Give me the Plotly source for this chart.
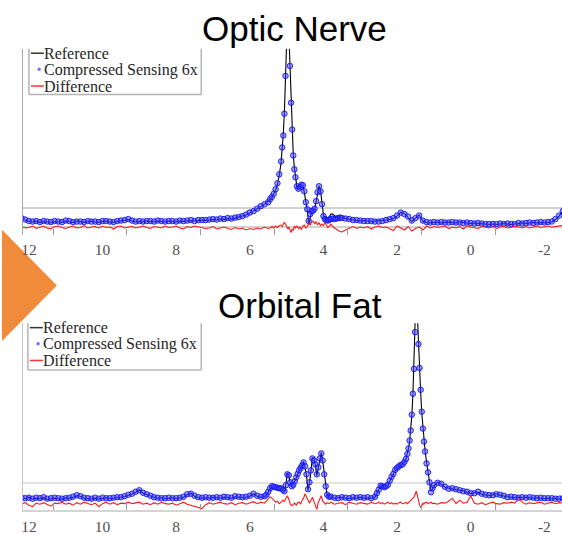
import plotly.graph_objects as go

# ---------------- Optic Nerve (top panel) ----------------
on_ppm = [12.2, 12.1, 12.0, 11.9, 11.8, 11.7, 11.6, 11.5, 11.4, 11.3,
          11.2, 11.1, 11.0, 10.9, 10.8, 10.7, 10.6, 10.5, 10.4, 10.3,
          10.2, 10.1, 10.0, 9.9, 9.8, 9.7, 9.6, 9.5, 9.4, 9.3,
          9.2, 9.1, 9.0, 8.9, 8.8, 8.7, 8.6, 8.5, 8.4, 8.3,
          8.2, 8.1, 8.0, 7.9, 7.8, 7.7, 7.6, 7.5, 7.4, 7.3,
          7.2, 7.1, 7.0, 6.9, 6.8, 6.7, 6.6, 6.5, 6.4, 6.3,
          6.2, 6.1, 6.0, 5.9, 5.8, 5.7, 5.6, 5.5,
          5.45, 5.4, 5.35, 5.3, 5.25, 5.2, 5.15, 5.12, 5.09, 5.06,
          5.03, 5.0, 4.97, 4.94, 4.91, 4.88, 4.85, 4.82, 4.79, 4.76,
          4.72, 4.68, 4.64, 4.6, 4.56, 4.52, 4.48, 4.44, 4.4, 4.36,
          4.32, 4.28, 4.24, 4.2, 4.16, 4.12, 4.08, 4.04, 4.0, 3.96,
          3.92, 3.88, 3.84, 3.8, 3.75, 3.7, 3.65, 3.6, 3.55,
          3.5, 3.4, 3.3, 3.2, 3.1, 3.0, 2.9, 2.8, 2.7, 2.6,
          2.5, 2.4, 2.3, 2.2, 2.1, 2.0, 1.9, 1.8, 1.7, 1.6,
          1.5, 1.4, 1.3, 1.2, 1.1, 1.0, 0.9, 0.8, 0.7, 0.6,
          0.5, 0.4, 0.3, 0.2, 0.1, 0.0, -0.1, -0.2, -0.3, -0.4,
          -0.5, -0.6, -0.7, -0.8, -0.9, -1.0, -1.1, -1.2, -1.3, -1.4,
          -1.5, -1.6, -1.7, -1.8, -1.9, -2.0, -2.1, -2.2, -2.3, -2.4, -2.5]

on_reference = [0.85, 0.7, 0.55, 0.5, 0.6, 0.45, 0.55, 0.5, 0.4, 0.55,
                0.5, 0.45, 0.6, 0.55, 0.45, 0.6, 0.5, 0.45, 0.55, 0.6,
                0.5, 0.45, 0.55, 0.6, 0.5, 0.45, 0.55, 0.6, 0.7, 0.75,
                0.6, 0.5, 0.55, 0.5, 0.6, 0.55, 0.5, 0.6, 0.55, 0.5,
                0.6, 0.55, 0.5, 0.6, 0.55, 0.6, 0.65, 0.6, 0.65, 0.7,
                0.65, 0.7, 0.75, 0.7, 0.8, 0.75, 0.85, 0.8, 0.9, 0.95,
                1.05, 1.2, 1.4, 1.6, 1.8, 2.05, 2.3, 2.55,
                2.75, 3.0, 3.3, 3.7, 4.3, 5.2, 6.5, 7.8, 9.4, 11.6,
                15.0, 19.0, 22.0, 19.5, 16.0, 12.5, 9.0, 7.3, 6.0, 4.9,
                4.0, 3.8, 3.9, 4.3, 4.1, 3.5, 2.6, 1.7, 0.25, 0.9,
                1.6, 1.7, 1.8, 2.5, 3.5, 4.15, 3.7, 2.4, 1.2, 0.75,
                0.7, 0.8, 1.1, 1.3, 1.3, 1.15, 1.0, 0.95, 1.0,
                0.95, 0.85, 0.75, 0.7, 0.65, 0.6, 0.65, 0.6, 0.55, 0.6,
                0.6, 0.65, 0.7, 0.75, 0.85, 1.1, 1.5, 1.35, 1.0, 0.55,
                0.9, 1.2, 0.6, 0.45, 0.4, 0.45, 0.5, 0.4, 0.45, 0.5,
                0.45, 0.4, 0.5, 0.45, 0.4, 0.35, 0.4, 0.35, 0.3, 0.3,
                0.25, 0.3, 0.25, 0.3, 0.35, 0.3, 0.25, 0.3, 0.35, 0.4,
                0.35, 0.4, 0.45, 0.4, 0.45, 0.4, 0.45, 0.5, 0.75, 1.1, 1.6]

on_cs = [0.9, 0.75, 0.6, 0.55, 0.6, 0.5, 0.6, 0.55, 0.5, 0.6,
         0.55, 0.5, 0.65, 0.6, 0.5, 0.55, 0.55, 0.5, 0.6, 0.55,
         0.55, 0.5, 0.6, 0.6, 0.55, 0.5, 0.6, 0.65, 0.7, 0.8,
         0.65, 0.55, 0.6, 0.55, 0.6, 0.6, 0.55, 0.65, 0.6, 0.55,
         0.6, 0.6, 0.55, 0.65, 0.6, 0.65, 0.7, 0.6, 0.7, 0.7,
         0.7, 0.75, 0.8, 0.75, 0.85, 0.8, 0.9, 0.85, 0.95, 1.0,
         1.1, 1.25, 1.45, 1.6, 1.85, 2.1, 2.3, 2.5,
         2.8, 3.05, 3.35, 3.8, 4.4, 5.3, 6.6, 8.0, 9.2, 11.4,
         15.2, 18.8, 21.5, 19.0, 16.2, 12.5, 9.8, 7.2, 5.8, 5.0,
         4.1, 3.85, 4.0, 4.25, 4.2, 3.6, 2.5, 1.8, 0.6, 1.3,
         1.6, 1.65, 1.85, 2.6, 3.5, 4.1, 3.6, 2.3, 1.1, 0.8,
         0.7, 0.65, 0.75, 0.8, 0.85, 0.8, 0.85, 0.9, 0.95,
         0.9, 0.85, 0.8, 0.7, 0.7, 0.65, 0.6, 0.6, 0.6, 0.55,
         0.55, 0.6, 0.7, 0.8, 0.9, 1.15, 1.45, 1.3, 1.05, 0.65,
         0.9, 1.15, 0.65, 0.5, 0.45, 0.5, 0.45, 0.5, 0.45, 0.45,
         0.5, 0.45, 0.45, 0.4, 0.45, 0.4, 0.35, 0.4, 0.35, 0.3,
         0.3, 0.3, 0.3, 0.35, 0.3, 0.35, 0.3, 0.3, 0.4, 0.35,
         0.4, 0.45, 0.4, 0.45, 0.5, 0.45, 0.5, 0.55, 0.8, 1.15, 1.6]

on_difference = [0.05, -0.1, -0.05, 0.1, -0.15, 0.0, 0.1, -0.1, -0.2, 0.05,
                 0.1, -0.05, -0.15, 0.0, 0.1, -0.1, -0.05, 0.15, -0.1, 0.0,
                 0.05, -0.1, 0.1, -0.05, 0.0, -0.2, 0.05, 0.1, -0.1, 0.0,
                 0.05, -0.1, 0.0, 0.1, -0.05, -0.15, 0.05, 0.0, -0.1, 0.1,
                 -0.05, 0.0, 0.1, -0.1, -0.2, 0.05, -0.05, 0.1, 0.0, -0.1,
                 -0.15, -0.1, 0.05, -0.2, -0.1, 0.0, -0.15, -0.25, -0.05, -0.2,
                 -0.1, -0.3, -0.15, -0.25, -0.1, -0.2, 0.0, -0.15,
                 -0.1, 0.05, -0.1, 0.1, -0.05, 0.15, 0.2, 0.05, 0.3, 0.45,
                 0.3, 0.1, -0.2, 0.0, -0.4, -0.55, -0.2, -0.35, 0.1, -0.1,
                 0.1, -0.15, 0.0, -0.25, 0.1, 0.2, -0.1, 0.05, 0.4, 0.2,
                 0.5, 0.6, 0.3, 0.55, 0.2, 0.45, 0.1, 0.3, 0.15, 0.45,
                 0.2, -0.05, 0.1, 0.3, 0.05, -0.1, -0.2, -0.35, -0.45,
                 -0.5, -0.3, -0.1, 0.05, -0.15, 0.0, -0.1, 0.05, -0.2, 0.0,
                 0.1, -0.05, 0.0, -0.2, -0.35, 0.1, -0.1, -0.3, 0.05, -0.4,
                 -0.15, 0.0, -0.3, 0.1, -0.1, 0.05, -0.05, 0.0, 0.1, -0.15,
                 0.0, -0.1, 0.05, -0.2, 0.1, 0.0, -0.1, -0.15, 0.05, 0.0,
                 -0.1, 0.05, -0.15, 0.0, 0.1, -0.1, -0.05, 0.05, 0.0, -0.1,
                 0.05, -0.1, 0.0, 0.1, -0.05, 0.05, 0.1, 0.0, 0.05, 0.1, 0.15]

# ---------------- Orbital Fat (bottom panel) ----------------
of_ppm = [12.2, 12.1, 12.0, 11.9, 11.8, 11.7, 11.6, 11.5, 11.4, 11.3,
          11.2, 11.1, 11.0, 10.9, 10.8, 10.7, 10.6, 10.5, 10.4, 10.3,
          10.2, 10.1, 10.0, 9.9, 9.8, 9.7, 9.6, 9.5, 9.4, 9.3,
          9.2, 9.1, 9.0, 8.9, 8.8, 8.7, 8.6, 8.5, 8.4, 8.3,
          8.2, 8.1, 8.0, 7.9, 7.8, 7.7, 7.6, 7.5, 7.4, 7.3,
          7.2, 7.1, 7.0, 6.9, 6.8, 6.7, 6.6, 6.5, 6.4, 6.3,
          6.2, 6.1, 6.0, 5.9, 5.8, 5.7, 5.6,
          5.55, 5.5, 5.45, 5.4, 5.35, 5.3, 5.25, 5.2, 5.15, 5.1,
          5.06, 5.02, 4.98, 4.94, 4.9, 4.86, 4.82, 4.78, 4.74, 4.7,
          4.66, 4.62, 4.58, 4.54, 4.5, 4.46, 4.42, 4.38, 4.34, 4.3,
          4.26, 4.22, 4.18, 4.14, 4.1, 4.06, 4.02, 3.98, 3.94, 3.9, 3.85,
          3.8, 3.7, 3.6, 3.5, 3.4, 3.3, 3.2, 3.1, 3.0, 2.9, 2.8, 2.7, 2.6,
          2.55, 2.5, 2.45, 2.4, 2.35, 2.3, 2.25, 2.2, 2.15, 2.1,
          2.05, 2.0, 1.95, 1.9, 1.85, 1.8, 1.76, 1.72, 1.69, 1.66,
          1.63, 1.6, 1.57, 1.54, 1.51, 1.48, 1.45, 1.42, 1.39, 1.36,
          1.33, 1.3, 1.27, 1.24, 1.2, 1.16, 1.12, 1.08, 1.04, 1.0,
          0.9, 0.8, 0.7, 0.6, 0.5, 0.4, 0.3, 0.2, 0.1, 0.0,
          -0.1, -0.2, -0.3, -0.4, -0.5, -0.6, -0.7, -0.8, -0.9, -1.0,
          -1.1, -1.2, -1.3, -1.4, -1.5, -1.6, -1.7, -1.8, -1.9, -2.0,
          -2.1, -2.2, -2.3, -2.4, -2.5]

of_reference = [0.5, 0.45, 0.6, 0.4, 0.5, 0.45, 0.55, 0.35, 0.45, 0.5,
                0.45, 0.4, 0.55, 0.5, 0.6, 0.75, 0.7, 0.5, 0.45, 0.4,
                0.5, 0.4, 0.5, 0.55, 0.45, 0.5, 0.55, 0.6, 0.65, 0.8,
                0.9, 1.1, 1.35, 1.0, 0.85, 0.7, 0.6, 0.5, 0.55, 0.45,
                0.5, 0.55, 0.45, 0.5, 0.6, 0.85, 1.0, 0.7, 0.55, 0.5,
                0.55, 0.5, 0.6, 0.55, 0.5, 0.6, 0.55, 0.5, 0.65, 0.6,
                0.55, 0.6, 0.7, 0.95, 0.7, 0.6, 0.65,
                0.8, 1.1, 1.45, 1.7, 1.6, 1.65, 1.5, 1.55, 1.45, 1.3,
                1.1, 1.9, 3.0, 2.75, 2.0, 1.65, 1.9, 2.15, 2.5, 2.9,
                3.25, 3.5, 3.9, 4.2, 3.6, 2.8, 1.25, 2.0, 3.2, 4.6,
                4.4, 3.8, 2.75, 3.5, 4.6, 5.1, 4.25, 3.0, 1.6, 0.8, 0.6,
                0.6, 0.5, 0.55, 0.6, 0.5, 0.45, 0.55, 0.5, 0.6, 0.5, 0.55, 0.5, 0.6,
                0.95, 1.3, 1.7, 1.75, 1.6, 1.65, 1.8, 2.2, 2.6, 2.9,
                3.3, 3.5, 3.75, 3.8, 3.95, 4.1, 4.4, 4.9, 5.5, 6.2,
                7.2, 8.8, 10.9, 13.6, 17.5, 22.0, 19.0, 15.8, 13.5, 11.2,
                9.1, 7.6, 6.3, 5.3, 4.1, 3.0, 2.0, 1.2, 1.4, 1.75,
                2.1, 1.9, 1.6, 1.5, 1.45, 1.35, 1.3, 1.25, 1.1, 0.95,
                1.05, 1.1, 0.9, 0.8, 0.75, 0.85, 0.95, 0.8, 0.7, 0.65,
                0.6, 0.55, 0.6, 0.55, 0.6, 0.55, 0.5, 0.55, 0.5, 0.45,
                0.5, 0.45, 0.5, 0.4, 0.45]

of_cs = [0.55, 0.5, 0.55, 0.45, 0.55, 0.5, 0.6, 0.45, 0.5, 0.55,
         0.5, 0.45, 0.5, 0.55, 0.65, 0.8, 0.7, 0.55, 0.5, 0.45,
         0.55, 0.45, 0.55, 0.5, 0.5, 0.55, 0.6, 0.6, 0.7, 0.85,
         0.95, 1.15, 1.3, 1.05, 0.9, 0.75, 0.6, 0.55, 0.5, 0.5,
         0.55, 0.5, 0.5, 0.55, 0.65, 0.9, 0.95, 0.75, 0.6, 0.55,
         0.6, 0.55, 0.55, 0.6, 0.55, 0.65, 0.6, 0.55, 0.7, 0.65,
         0.6, 0.65, 0.75, 0.95, 0.75, 0.65, 0.7,
         0.85, 1.15, 1.5, 1.7, 1.65, 1.6, 1.55, 1.5, 1.5, 1.35,
         1.2, 1.8, 2.9, 2.8, 2.1, 1.7, 1.85, 2.2, 2.6, 2.95,
         3.3, 3.55, 3.8, 4.1, 3.7, 2.9, 1.4, 2.1, 3.3, 4.5,
         4.3, 3.9, 2.9, 3.6, 4.5, 5.0, 4.3, 2.9, 1.7, 0.85, 0.65,
         0.65, 0.55, 0.5, 0.6, 0.55, 0.5, 0.6, 0.55, 0.6, 0.55, 0.6, 0.5, 0.65,
         1.0, 1.35, 1.75, 1.7, 1.6, 1.7, 1.85, 2.25, 2.65, 2.95,
         3.35, 3.55, 3.7, 3.85, 3.9, 4.15, 4.45, 4.95, 5.5, 6.3,
         7.3, 8.9, 11.0, 13.5, 17.2, 21.5, 19.2, 16.0, 13.6, 11.4,
         9.2, 7.5, 6.2, 5.2, 4.0, 3.1, 2.1, 1.1, 1.5, 1.8,
         2.05, 1.95, 1.65, 1.45, 1.5, 1.4, 1.3, 1.2, 1.15, 1.0,
         1.0, 1.15, 0.95, 0.85, 0.8, 0.8, 0.9, 0.85, 0.75, 0.6,
         0.65, 0.6, 0.55, 0.6, 0.55, 0.6, 0.55, 0.5, 0.55, 0.5,
         0.5, 0.5, 0.45, 0.45, 0.5]

of_difference = [-0.1, 0.05, -0.2, -0.35, 0.0, -0.1, 0.05, -0.15, -0.3, 0.0,
                 -0.05, 0.1, -0.1, 0.0, -0.2, 0.05, -0.1, 0.1, -0.05, -0.15,
                 0.0, -0.35, -0.05, 0.1, -0.1, 0.05, -0.15, 0.0, -0.05, 0.1,
                 -0.05, 0.05, 0.1, -0.1, 0.0, -0.15, 0.05, -0.1, 0.1, -0.05,
                 -0.1, 0.0, -0.2, -0.05, 0.1, -0.1, -0.2, -0.3, -0.4, -0.55,
                 -0.15, 0.05, -0.1, 0.0, 0.1, -0.05, -0.1, 0.05, -0.15, 0.0,
                 0.05, -0.1, 0.0, 0.15, -0.05, 0.1, 0.0,
                 0.2, 0.45, 0.65, 0.5, 0.3, 0.1, 0.2, -0.05, 0.1, 0.3,
                 0.2, 0.5, 0.75, 0.4, -0.1, -0.25, -0.1, 0.0, -0.2, 0.05,
                 0.1, -0.1, 0.3, 0.5, 0.95, 0.6, 0.2, 0.0, 0.3, 0.6,
                 0.2, -0.3, -0.65, 0.1, 0.5, 0.75, 0.2, 0.0, -0.1, 0.05, -0.05,
                 0.1, -0.1, 0.0, 0.05, -0.15, 0.1, 0.0, -0.1, 0.05, 0.0, -0.1, 0.1, -0.05,
                 0.0, 0.1, -0.05, 0.05, -0.1, 0.0, 0.1, -0.05, 0.05, -0.1,
                 0.0, -0.1, 0.05, 0.1, -0.05, 0.0, 0.1, -0.05, 0.05, 0.1,
                 0.2, 0.3, 0.45, 0.6, 0.9, 1.2, 0.8, 0.1, -0.2, -0.4,
                 -0.3, 0.0, -0.1, 0.05, 0.1, -0.05, 0.0, 0.1, -0.05, 0.0,
                 -0.1, 0.05, 0.0, 0.2, 0.5, -0.05, 0.3, 0.0, 0.1, 0.75,
                 0.0, -0.1, 0.05, -0.15, 0.0, 0.1, -0.05, -0.1, 0.05, 0.0,
                 0.1, 0.0, 0.45, 0.1, -0.1, 0.05, -0.05, 0.0, 0.1, -0.1,
                 0.0, 0.1, -0.05, 0.05, 0.0]

for arrs in [(on_ppm, on_reference, on_cs, on_difference),
             (of_ppm, of_reference, of_cs, of_difference)]:
    n = len(arrs[0])
    for a in arrs:
        if len(a) != n:
            raise ValueError("length mismatch %d vs %d" % (len(a), n))

panel_titles = ["Optic Nerve", "Orbital Fat"]
legend_labels = ["Reference", "Compressed Sensing 6x", "Difference"]
tick_vals = [12, 10, 8, 6, 4, 2, 0, -2]
tick_text = ["12", "10", "8", "6", "4", "2", "0", "-2"]
minor_tick_vals = [11.34, 9.34, 7.34, 5.34, 3.34, 1.34, -0.66]

# ---------------- figure ----------------
W, H = 562, 535
def px(x):
    return x / W
def py(y):
    return 1 - y / H

fig = go.Figure()

panels = [
    (on_ppm, on_reference, on_cs, on_difference, "x", "y"),
    (of_ppm, of_reference, of_cs, of_difference, "x2", "y2"),
]
for ppm, ref, cs, diff, xa, ya in panels:
    fig.add_trace(go.Scatter(x=ppm, y=ref, mode="lines", xaxis=xa, yaxis=ya,
                             line=dict(color="black", width=1.1), showlegend=False))
    fig.add_trace(go.Scatter(x=ppm, y=cs, mode="markers", xaxis=xa, yaxis=ya,
                             marker=dict(size=5.5, color="rgba(70,70,255,0.5)",
                                         line=dict(color="rgba(10,10,255,0.85)", width=1)),
                             showlegend=False))
    fig.add_trace(go.Scatter(x=ppm, y=diff, mode="lines", xaxis=xa, yaxis=ya,
                             line=dict(color="#ff1a1a", width=1.1), showlegend=False))

x_left, x_right = 12.162, -2.479
xdom = [px(21), 1.0]
tickfont = dict(family="Liberation Serif, Times New Roman, serif", size=15.5, color="#505050")

common_x = dict(domain=xdom, range=[x_left, x_right], tickmode="array",
                tickvals=tick_vals, ticktext=tick_text, ticks="", showgrid=False,
                zeroline=False, tickfont=tickfont,
                minor=dict(tickmode="array", tickvals=minor_tick_vals, ticks="inside",
                           ticklen=6, tickcolor="#9a9a9a", tickwidth=1, showgrid=False))

fig.update_layout(
    width=W, height=H, autosize=False,
    margin=dict(l=0, r=0, t=0, b=0, pad=0),
    paper_bgcolor="white", plot_bgcolor="rgba(0,0,0,0)",
    showlegend=False,
    xaxis=dict(anchor="y", showline=False, ticklabelstandoff=4, **common_x),
    xaxis2=dict(anchor="y2", showline=True, linecolor="#d4d4d4", linewidth=2,
                ticklabelstandoff=2, **common_x),
    yaxis=dict(domain=[py(236), py(49)], range=[-0.77, 17.93], anchor="x",
               showticklabels=False, ticks="", tickmode="array", tickvals=[0.0, 1.93],
               showgrid=True, gridcolor="#d2d2d2", gridwidth=1.6, zeroline=False,
               showline=True, linecolor="#a8a8a8", linewidth=1),
    yaxis2=dict(domain=[py(512.7), py(325)], range=[-0.67, 18.1], anchor="x2",
                showticklabels=False, ticks="", tickmode="array", tickvals=[2.03],
                showgrid=True, gridcolor="#e2e2e2", gridwidth=1.5, zeroline=False,
                showline=True, linecolor="#c4c4c4", linewidth=1),
)

shapes = []
# orange arrow triangle at left edge
shapes.append(dict(type="path", xref="paper", yref="paper", layer="below",
                   path="M %f,%f L %f,%f L %f,%f Z" % (px(0), py(231), px(55), py(287), px(0), py(343)),
                   fillcolor="#F08B3B", line=dict(width=0)))

annotations = []
# panel titles
title_pos = [(293.5, 29), (299, 307)]
for t, (cx, cy) in zip(panel_titles, title_pos):
    annotations.append(dict(text=t, x=px(cx), y=py(cy), xref="paper", yref="paper",
                            xanchor="center", yanchor="middle", showarrow=False,
                            font=dict(family="Liberation Sans, Arial, sans-serif", size=35, color="black")))

# legends (frame top edge hidden by the axes top, as in the original)
legend_boxes = [(27, 200, 49, 95, [53.5, 70, 86.5]), (26, 200, 325, 372, [329.5, 346, 362.5])]
frame_col = "#b4b4b4"
for (lx, rx, ty, by, rows) in legend_boxes:
    for (x0, y0, x1, y1) in [(lx, ty, lx, by), (rx, ty, rx, by), (lx, by, rx, by)]:
        shapes.append(dict(type="line", xref="paper", yref="paper",
                           x0=px(x0), y0=py(y0), x1=px(x1), y1=py(y1),
                           line=dict(color=frame_col, width=1.5)))
    shapes.append(dict(type="line", xref="paper", yref="paper",
                       x0=px(lx + 2), y0=py(rows[0]), x1=px(lx + 15), y1=py(rows[0]),
                       line=dict(color="#333333", width=1.5)))
    shapes.append(dict(type="circle", xref="paper", yref="paper",
                       x0=px(lx + 8.5), y0=py(rows[1] - 2), x1=px(lx + 12), y1=py(rows[1] + 1.5),
                       fillcolor="#7070ff", line=dict(width=0)))
    shapes.append(dict(type="line", xref="paper", yref="paper",
                       x0=px(lx + 2), y0=py(rows[2]), x1=px(lx + 15), y1=py(rows[2]),
                       line=dict(color="#ff3333", width=1.5)))
    for lab, ry in zip(legend_labels, rows):
        annotations.append(dict(text=lab, x=px(lx + 13), y=py(ry), xref="paper", yref="paper",
                                xanchor="left", yanchor="middle", showarrow=False,
                                font=dict(family="Liberation Serif, Times New Roman, serif",
                                          size=16, color="#262626")))

fig.update_layout(shapes=shapes, annotations=annotations)
fig.write_html("out.html", config={"displayModeBar": False},
               post_script="document.body.style.margin='0px';document.body.style.overflow='hidden';")
